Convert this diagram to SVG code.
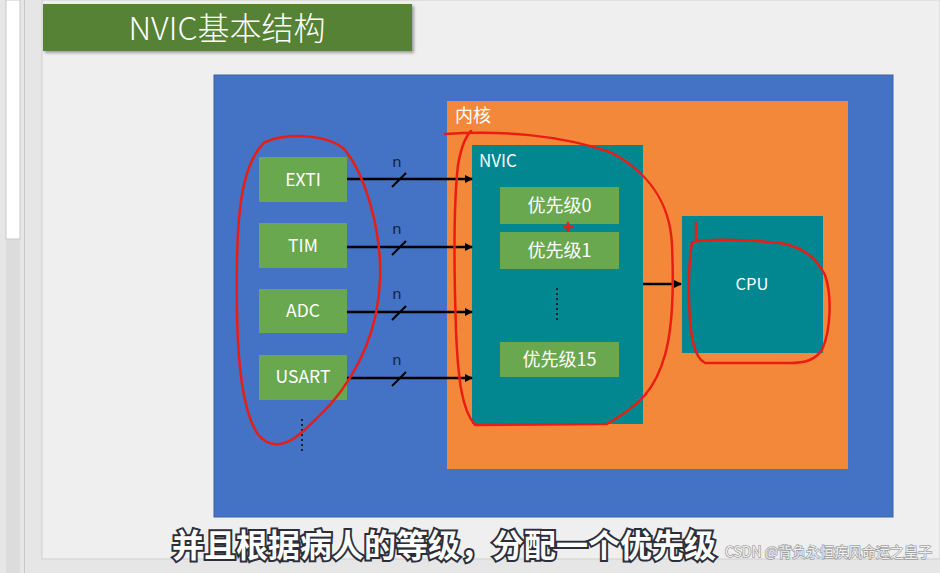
<svg xmlns="http://www.w3.org/2000/svg" width="940" height="573" viewBox="0 0 940 573">
<defs>
<style>
.t{font-family:"Noto Sans CJK SC","Noto Sans",sans-serif;fill:#ffffff}
.grn{fill:#6aa84f}
.arr{stroke:#000;stroke-width:2.5;fill:none;marker-end:url(#ah)}
.sl{stroke:#000;stroke-width:2;fill:none}
.n{font-family:"Noto Sans","Noto Sans CJK SC",sans-serif;font-size:15px;fill:#16213a}
.red{stroke:#ea1d14;stroke-width:2.5;fill:none;stroke-linecap:round;stroke-linejoin:round}
.dot{stroke:#1b2333;stroke-width:2;stroke-dasharray:2 3;fill:none}
.sub{font-family:"Noto Sans CJK SC",sans-serif;font-weight:bold;font-size:32px;fill:#ffffff;stroke:#2c2f3a;stroke-width:4;paint-order:stroke}
</style>
<marker id="ah" markerWidth="8" markerHeight="8" refX="7" refY="4" orient="auto" markerUnits="userSpaceOnUse">
<path d="M0,0 L8,4 L0,8 Z" fill="#000"/>
</marker>
<filter id="sh" x="-5%" y="-10%" width="115%" height="140%">
<feDropShadow dx="2" dy="2" stdDeviation="1.5" flood-color="#000" flood-opacity="0.35"/>
</filter>
</defs>
<rect x="0" y="0" width="940" height="573" fill="#e6e6e6"/>
<rect x="42" y="0" width="898" height="559" fill="#efefef" stroke="#cfcfcf"/>
<rect x="6" y="0" width="14" height="573" fill="#dcdcdc"/>
<rect x="6" y="0" width="14" height="239" fill="#ffffff" stroke="#c8c8c8"/>
<line x1="24.5" y1="0" x2="24.5" y2="573" stroke="#c8c8c8"/>

<g id="title">
<rect x="43" y="4" width="369" height="47" fill="#548235" filter="url(#sh)"/>
<text class="t" x="227" y="40" font-size="32" font-weight="300" text-anchor="middle">NVIC基本结构</text>
</g>

<g id="panel"><rect x="214" y="75" width="679" height="442" fill="#4472c4" stroke="#3a62a8"/></g>

<g id="core">
<rect x="447" y="101" width="401" height="368" fill="#f3883a"/>
<text class="t" x="455" y="122" font-size="18">内核</text>
</g>

<g id="nvic">
<rect x="472" y="145" width="171" height="279" fill="#028790"/>
<text class="t" x="479" y="167" font-size="17" fill="#e6fbff">NVIC</text>
</g>
<g id="p0"><rect class="grn" x="500" y="187" width="119" height="37"/><text class="t" x="559.5" y="212" font-size="18" text-anchor="middle">优先级0</text></g>
<g id="p1"><rect class="grn" x="500" y="232" width="119" height="37"/><text class="t" x="559.5" y="257" font-size="18" text-anchor="middle">优先级1</text></g>
<g id="p15"><rect class="grn" x="500" y="342" width="119" height="35"/><text class="t" x="559.5" y="366" font-size="18" text-anchor="middle">优先级15</text></g>
<line class="dot" x1="557" y1="288" x2="557" y2="321"/>

<g id="cpu">
<rect x="682" y="216" width="141" height="137" fill="#028790"/>
<text class="t" x="752" y="290" font-size="16.5" text-anchor="middle">CPU</text>
</g>

<g id="exti"><rect class="grn" x="259" y="157" width="88" height="45"/><text class="t" x="303" y="186" font-size="17.5" text-anchor="middle">EXTI</text></g>
<g id="tim"><rect class="grn" x="259" y="223" width="88" height="45"/><text class="t" x="303" y="252" font-size="17.5" text-anchor="middle">TIM</text></g>
<g id="adc"><rect class="grn" x="259" y="289" width="88" height="44"/><text class="t" x="303" y="317" font-size="17.5" text-anchor="middle">ADC</text></g>
<g id="usart"><rect class="grn" x="259" y="355" width="88" height="45"/><text class="t" x="303" y="383" font-size="17.5" text-anchor="middle">USART</text></g>
<line class="dot" x1="302" y1="419" x2="302" y2="453"/>

<g id="connectors">
<line class="arr" x1="347" y1="179" x2="472" y2="179"/>
<line class="arr" x1="347" y1="247" x2="472" y2="247"/>
<line class="arr" x1="347" y1="312" x2="472" y2="312"/>
<line class="arr" x1="347" y1="378" x2="472" y2="378"/>
<line class="arr" x1="643" y1="284" x2="681" y2="284"/>
<line class="sl" x1="392" y1="187" x2="406" y2="173"/>
<line class="sl" x1="392" y1="255" x2="406" y2="241"/>
<line class="sl" x1="392" y1="320" x2="406" y2="306"/>
<line class="sl" x1="392" y1="386" x2="406" y2="372"/>
<text class="n" x="397" y="167" text-anchor="middle">n</text>
<text class="n" x="397" y="234" text-anchor="middle">n</text>
<text class="n" x="397" y="299" text-anchor="middle">n</text>
<text class="n" x="397" y="365" text-anchor="middle">n</text>
</g>

<g id="annotations">
<path class="red" d="M265,142 C290,132 330,135 345,150 C365,175 382,230 380,280 C378,330 360,370 330,405 C310,425 295,442 280,444 C262,446 252,432 245,400 C238,370 236,320 237,260 C238,200 245,160 265,142"/>
<path class="red" d="M445,134 C500,130 560,135 610,152 C645,170 670,200 672,245 C674,290 672,330 665,355 C655,390 640,405 607,424 L475,425 C462,410 458,380 456,330 C454,270 454,200 458,165 C461,148 466,136 471,131"/>
<path class="red" d="M696,223 L696,240 M692,242 C720,237 760,241 780,243 C800,246 815,255 825,275 C832,295 831,330 822,350 C815,360 805,363 790,363 L705,363 C695,358 690,340 689,300 C688,270 690,255 692,242"/>
<path class="red" d="M564,227 L572,227 M568,223 L568,231" stroke-width="1.8"/>
</g>

<text class="sub" x="172" y="557">并且根据病人的等级，分配一个优先级</text>
<text x="932" y="557" text-anchor="end" font-family="Noto Sans CJK SC,sans-serif" font-size="14" fill="#ffffff" fill-opacity="0.85" stroke="#6b6b6b" stroke-opacity="0.6" stroke-width="1.5" paint-order="stroke">CSDN @背负永恒疾风命运之皇子</text>
</svg>
